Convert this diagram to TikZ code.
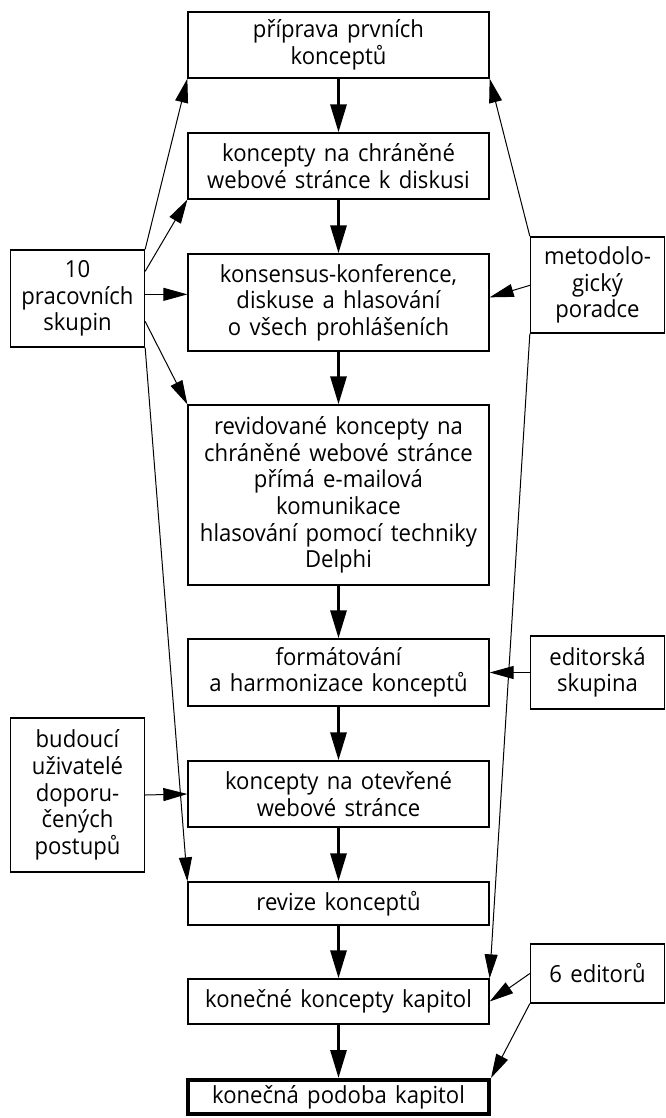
\documentclass[tikz,border=0pt]{standalone}
\usepackage{fontspec}
\setmainfont[FakeStretch=0.94,WordSpace=1.45]{Open Sans}
\usetikzlibrary{arrows.meta,calc}
\begin{document}
\begin{tikzpicture}[x=1pt,y=-1pt,
  box/.style={draw,line width=1.3pt,align=center,inner sep=0pt,font=\fontsize{23.5}{26.6}\selectfont},
  mainbox/.style={box,minimum width=301pt},
  sidebox/.style={box,minimum width=134pt},
  thickarrow/.style={line width=3pt,-{Triangle[length=28pt,width=16pt]}},
  thinarrow/.style={line width=1pt,-{Triangle[length=24pt,width=13pt]}},
]
\useasboundingbox (0,0) rectangle (665,1118);
% main column
\node[mainbox,minimum height=66pt] (b1) at (338.5,45) {příprava prvních\\konceptů};
\node[mainbox,minimum height=66pt] (b2) at (338.5,166) {koncepty na chráněné\\webové stránce k diskusi};
\node[mainbox,minimum height=97pt] (b3) at (338.5,302.5) {konsensus-konference,\\diskuse a hlasování\\o všech prohlášeních};
\node[mainbox,minimum height=180pt] (b4) at (338.5,495) {revidované koncepty na\\chráněné webové stránce\\přímá e-mailová\\komunikace\\hlasování pomocí techniky\\Delphi};
\node[mainbox,minimum height=67pt] (b5) at (338.5,672.5) {formátování\\a harmonizace konceptů};
\node[mainbox,minimum height=66pt] (b6) at (338.5,794) {koncepty na otevřené\\webové stránce};
\node[mainbox,minimum height=43pt] (b7) at (338.5,903.5) {revize konceptů};
\node[mainbox,minimum height=45pt] (b8) at (338.5,1001.5) {konečné koncepty kapitol};
\node[mainbox,minimum height=34pt,line width=4pt] (b9) at (338.5,1097) {konečná podoba kapitol};
% side boxes
\node[sidebox,minimum height=97pt] (L1) at (77.5,298.5) {10\\pracovních\\skupin};
\node[sidebox,minimum height=154pt] (L2) at (77.5,795) {budoucí\\uživatelé\\doporu-\\čených\\postupů};
\node[sidebox,minimum height=96pt] (R1) at (597.5,285) {metodolo-\\gický\\poradce};
\node[sidebox,minimum height=73pt] (R2) at (597.5,672.5) {editorská\\skupina};
\node[sidebox,minimum height=59pt] (R3) at (597.5,973.5) {6 editorů};
% main flow
\draw[thickarrow] (b1.south) -- (b2.north);
\draw[thickarrow] (b2.south) -- (b3.north);
\draw[thickarrow] (b3.south) -- (b4.north);
\draw[thickarrow] (b4.south) -- (b5.north);
\draw[thickarrow] (b5.south) -- (b6.north);
\draw[thickarrow] (b6.south) -- (b7.north);
\draw[thickarrow] (b7.south) -- (b8.north);
\draw[thickarrow] (b8.south) -- (b9.north);
% left inputs
\draw[thinarrow] (L1.north east) -- (b1.south west);
\draw[thinarrow] ([yshift=-22pt]L1.north east) -- (b2.south west);
\draw[thinarrow] ([yshift=-45pt]L1.north east) -- ([yshift=-41pt]b3.north west);
\draw[thinarrow] ([yshift=-72pt]L1.north east) -- (b4.north west);
\draw[thinarrow] (L1.south east) -- (b7.north west);
\draw[thinarrow] (L2.east) -- (b6.west);
% right inputs
\draw[thinarrow] (R1.north west) -- (b1.south east);
\draw[thinarrow] ([yshift=-49pt]R1.north west) -- ([yshift=-44pt]b3.north east);
\draw[thinarrow] (R1.south west) -- (b8.north east);
\draw[thinarrow] (R2.west) -- (b5.east);
\draw[thinarrow] (R3.west) -- (b8.east);
\draw[thinarrow] (R3.south west) -- (b9.north east);
\end{tikzpicture}
\end{document}
